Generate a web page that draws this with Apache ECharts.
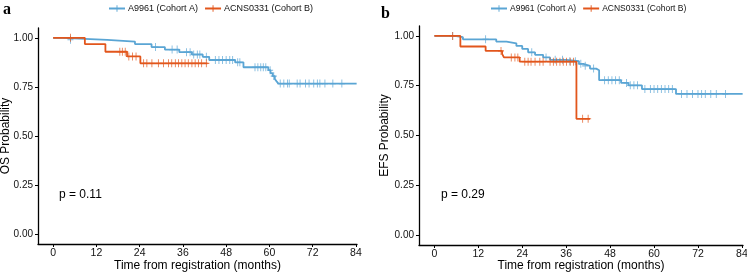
<!DOCTYPE html>
<html>
<head>
<meta charset="utf-8">
<script src="https://cdn.jsdelivr.net/npm/echarts@6/dist/echarts.min.js"></script>
<style>
  html, body { margin: 0; padding: 0; background: #fff; }
  #chart { width: 747px; height: 273px; }
</style>
</head>
<body>
<div id="chart"></div>
<script>
// panel a: overall survival
const osBlueTime = [0, 2.5, 15, 22.7, 27.3, 31, 35, 38.5, 41.5, 43.3, 50.5, 52.8, 59.7, 60.3, 60.9, 61.5, 62.0, 62.5, 84.2];
const osBlueSurv = [1, 0.99, 0.981, 0.968, 0.953, 0.94, 0.927, 0.915, 0.903, 0.887, 0.875, 0.85, 0.835, 0.82, 0.805, 0.79, 0.778, 0.767, 0.767];
const osBlueCensor = [4.8, 28.4, 33, 34.4, 37, 38, 39, 40, 40.7, 42.5, 45, 46, 47, 48, 49, 49.8, 51.2, 51.8, 56, 56.8, 57.6, 58.3, 59, 60.2, 61.2, 63, 64, 65, 65.5, 67.7, 68.5, 70, 71, 72.3, 73.3, 74, 75.4, 77.6, 80.1];
const osOrangeTime = [0, 8.8, 14.5, 20.5, 24.2, 42.8];
const osOrangeSurv = [1, 0.968, 0.929, 0.905, 0.87, 0.87];
const osOrangeCensor = [4.8, 18.5, 19.2, 20, 21, 22, 23, 25.1, 26, 27.4, 29.2, 30.6, 32, 32.9, 33.9, 34.8, 35.7, 36.6, 37.5, 38.5, 39.4, 40.3, 41.2, 42.5];

// panel b: event-free survival
const efsBlueTime = [0, 5.5, 7.8, 16.9, 19.7, 22.4, 24, 25.6, 27.5, 29.7, 31.6, 36, 39.5, 40.7, 42.5, 44.2, 45, 51, 53, 56.7, 66, 84.2];
const efsBlueSurv = [1, 0.994, 0.983, 0.972, 0.963, 0.95, 0.935, 0.918, 0.905, 0.892, 0.88, 0.873, 0.86, 0.85, 0.836, 0.828, 0.778, 0.764, 0.752, 0.733, 0.709, 0.709];
const efsBlueCensor = [5, 14, 26.6, 30.5, 33, 35, 37, 38.5, 40, 41.2, 43.5, 46.5, 47.5, 48.5, 49.5, 50.5, 52.5, 53.5, 54.5, 55.5, 57.5, 59, 60, 61, 62, 63, 64, 65, 67.5, 69, 70.5, 72, 73, 74, 75.5, 77, 79.5];
const efsOrangeTime = [0, 7.1, 14, 18.5, 19, 23.3, 38.8, 42.5];
const efsOrangeSurv = [1, 0.947, 0.925, 0.91, 0.892, 0.871, 0.584, 0.584];
const efsOrangeCensor = [5, 18.2, 21, 22, 22.8, 24.7, 25.6, 26.4, 27.5, 28.8, 29.7, 31.6, 32.5, 33.4, 34.3, 35.2, 36.1, 37.1, 38, 40.5, 42];

const xTicks = [0, 12, 24, 36, 48, 60, 72, 84];
const yTicks = [0, 0.25, 0.5, 0.75, 1];
const nameA = 'A9961 (Cohort A)';
const nameB = 'ACNS0331 (Cohort B)';
const pValues = ['p = 0.11', 'p = 0.29'];
const yTitles = ['OS Probability', 'EFS Probability'];

const BLUE = '#5AA5D4';
const ORANGE = '#E2561C';
const FONT = 'Liberation Sans';
const PLUS = 'path://M3,0H4V3H7V4H4V7H3V4H0V3H3Z';

function pairs(t, s){ return t.map((v, i) => [v, s[i]]); }
function survAt(t, s, x){
  let v = s[0];
  for(let i = 0; i < t.length; i++){ if(t[i] <= x) v = s[i]; }
  return v;
}
function censorPts(t, s, c){ return c.map(x => [x, survAt(t, s, x)]); }

function stepSeries(name, color, idx, t, s){
  return {
    type: 'line', name, xAxisIndex: idx, yAxisIndex: idx,
    step: 'end', data: pairs(t, s), showSymbol: false,
    symbol: PLUS, symbolSize: 7,
    lineStyle: { color, width: 1.8 }, itemStyle: { color },
    silent: true, animation: false, z: color === ORANGE ? 3 : 2
  };
}
function censorSeries(name, color, idx, t, s, c){
  return {
    type: 'scatter', name, xAxisIndex: idx, yAxisIndex: idx,
    data: censorPts(t, s, c), symbol: PLUS, symbolSize: [6, 8],
    itemStyle: { color }, silent: true, animation: false,
    z: color === ORANGE ? 3 : 2
  };
}

// fixed plot boxes, no automatic room for labels
const grids = [
  { left: 38, top: 28, width: 319, height: 216, outerBoundsMode: 'none', containLabel: false },
  { left: 419, top: 26, width: 324, height: 219, outerBoundsMode: 'none', containLabel: false }
];
const yNameGaps = [26, 28];
const xNameGaps = [16, 15];

const xAxes = grids.map((g, i) => ({
  gridIndex: i, type: 'value', min: -4.2, max: 84.3,
  axisLine: { onZero: false, lineStyle: { color: '#000', width: 1.3 } },
  axisTick: { customValues: xTicks, length: 3, lineStyle: { color: '#000' } },
  axisLabel: { customValues: xTicks, color: '#111', fontFamily: FONT, fontSize: 10.5, margin: 4 },
  splitLine: { show: false },
  name: 'Time from registration (months)', nameLocation: 'middle', nameGap: xNameGaps[i],
  nameMoveOverlap: false,
  nameTextStyle: { color: '#000', fontFamily: FONT, fontSize: 12 }
}));

const yAxes = grids.map((g, i) => ({
  gridIndex: i, type: 'value', min: -0.05, max: 1.05,
  axisLine: { show: true, onZero: false, lineStyle: { color: '#000', width: 1.3 } },
  axisTick: { show: true, customValues: yTicks, length: 3, lineStyle: { color: '#000' } },
  axisLabel: { customValues: yTicks, color: '#111', fontFamily: FONT, fontSize: 10, margin: 5,
    formatter: v => v.toFixed(2) },
  splitLine: { show: false },
  name: yTitles[i], nameLocation: 'middle', nameGap: yNameGaps[i],
  nameMoveOverlap: false,
  nameTextStyle: { color: '#000', fontFamily: FONT, fontSize: 12 }
}));

const series = [
  stepSeries(nameA, BLUE, 0, osBlueTime, osBlueSurv),
  censorSeries(nameA, BLUE, 0, osBlueTime, osBlueSurv, osBlueCensor),
  stepSeries(nameB, ORANGE, 0, osOrangeTime, osOrangeSurv),
  censorSeries(nameB, ORANGE, 0, osOrangeTime, osOrangeSurv, osOrangeCensor),
  stepSeries(nameA, BLUE, 1, efsBlueTime, efsBlueSurv),
  censorSeries(nameA, BLUE, 1, efsBlueTime, efsBlueSurv, efsBlueCensor),
  stepSeries(nameB, ORANGE, 1, efsOrangeTime, efsOrangeSurv),
  censorSeries(nameB, ORANGE, 1, efsOrangeTime, efsOrangeSurv, efsOrangeCensor)
];

function legendAt(left, top, size){
  return {
    left, top, itemWidth: 16, itemHeight: 8, itemGap: 6,
    data: [nameA, nameB], selectedMode: false,
    textStyle: { color: '#111', fontFamily: FONT, fontSize: size, padding: [0, 0, 0, -2] }
  };
}

const chart = echarts.init(document.getElementById('chart'), null, { renderer: 'canvas' });
chart.setOption({
  animation: false,
  grid: grids,
  xAxis: xAxes,
  yAxis: yAxes,
  legend: [legendAt(103, -1, 9), legendAt(485, -1, 8.5)],
  graphic: [
    { type: 'text', left: 3, top: 2, style: { text: 'a', fontFamily: 'Liberation Serif', fontWeight: 'bold', fontSize: 16, fill: '#000' } },
    { type: 'text', left: 381, top: 6, style: { text: 'b', fontFamily: 'Liberation Serif', fontWeight: 'bold', fontSize: 16, fill: '#000' } },
    { type: 'text', left: 59, top: 189, style: { text: pValues[0], fontFamily: FONT, fontSize: 12, fill: '#000' } },
    { type: 'text', left: 441, top: 189, style: { text: pValues[1], fontFamily: FONT, fontSize: 12, fill: '#000' } }
  ],
  series
});
</script>
</body>
</html>
